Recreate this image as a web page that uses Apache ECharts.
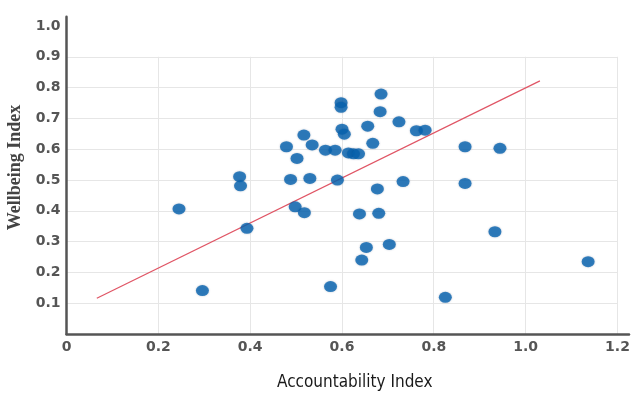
<!DOCTYPE html>
<html>
<head>
<meta charset="utf-8">
<script src="https://cdn.jsdelivr.net/npm/echarts@6/dist/echarts.min.js"></script>
<style>
  html, body { margin: 0; padding: 0; background: #fff; }
  #chart { width: 634px; height: 397px; }
</style>
</head>
<body>
<div id="chart"></div>
<script>
// Country-level observations: accountability vs. wellbeing
const accountability = [
  0.245, 0.296, 0.377, 0.379, 0.393, 0.479, 0.488, 0.502, 0.498, 0.518,
  0.517, 0.535, 0.530, 0.564, 0.585, 0.590, 0.575, 0.598, 0.598, 0.600,
  0.605, 0.614, 0.625, 0.636, 0.638, 0.643, 0.653, 0.656, 0.667, 0.677,
  0.680, 0.683, 0.685, 0.703, 0.724, 0.733, 0.762, 0.781, 0.825, 0.868,
  0.868, 0.933, 0.944, 1.136
];
const wellbeing = [
  0.406, 0.141, 0.511, 0.481, 0.343, 0.608, 0.502, 0.570, 0.413, 0.394,
  0.646, 0.614, 0.505, 0.597, 0.597, 0.500, 0.154, 0.751, 0.736, 0.665,
  0.649, 0.588, 0.585, 0.585, 0.390, 0.240, 0.281, 0.675, 0.619, 0.471,
  0.392, 0.722, 0.779, 0.291, 0.689, 0.495, 0.660, 0.662, 0.119, 0.608,
  0.489, 0.332, 0.603, 0.235
];

// Linear fit endpoints
const trendX = [0.066, 1.031];
const trendY = [0.116, 0.822];

const points = accountability.map((x, i) => [x, wellbeing[i]]);
const trend = trendX.map((x, i) => [x, trendY[i]]);

const near = (v, step) => Math.abs(v / step - Math.round(v / step)) < 1e-6;
const tickFont = { color: '#555', fontFamily: 'DejaVu Sans', fontWeight: 'bold', fontSize: 14 };

const chart = echarts.init(document.getElementById('chart'), null, { renderer: 'canvas' });
chart.setOption({
  animation: false,
  backgroundColor: '#fff',
  grid: [
    { left: 66.5, right: 5, top: 16.8, bottom: 63, containLabel: false, outerBoundsMode: 'none' },
    { left: 66.5, right: 16.7, top: 56.8, bottom: 63, containLabel: false, outerBoundsMode: 'none' }
  ],
  xAxis: [
    {
      gridIndex: 0, type: 'value', min: 0, max: 1.225, interval: 0.2,
      name: 'Accountability Index', nameLocation: 'middle', nameGap: 40,
      nameTextStyle: {
        fontFamily: "'DejaVu Sans Condensed', 'Liberation Sans Narrow', 'Liberation Sans'",
        fontSize: 17, color: '#1a1a1a', padding: [0, 0, 0, 14]
      },
      axisLine: { show: true, lineStyle: { color: '#555', width: 2.5 } },
      axisTick: { show: false },
      splitLine: { show: false },
      axisLabel: {
        ...tickFont, margin: 6,
        formatter: v => (near(v, 0.2) ? (v === 0 ? '0' : v.toFixed(1)) : '')
      }
    },
    {
      gridIndex: 1, type: 'value', min: 0, max: 1.2, interval: 0.2,
      axisLine: { show: false }, axisTick: { show: false }, axisLabel: { show: false },
      splitLine: { show: true, lineStyle: { color: '#e6e6e6', width: 1 } }
    }
  ],
  yAxis: [
    {
      gridIndex: 0, type: 'value', min: 0, max: 1.03, interval: 0.1,
      name: 'Wellbeing Index', nameLocation: 'middle', nameGap: 38,
      nameTextStyle: {
        fontFamily: 'Liberation Serif', fontSize: 18, color: '#444', fontWeight: 'bold',
        padding: [0, 0, 0, 16]
      },
      axisLine: { show: true, lineStyle: { color: '#555', width: 2.5 } },
      axisTick: { show: false },
      splitLine: { show: false },
      axisLabel: {
        ...tickFont, margin: 6,
        formatter: v => (v > 0 && near(v, 0.1) ? v.toFixed(1) : '')
      }
    },
    {
      gridIndex: 1, type: 'value', min: 0, max: 0.9, interval: 0.1,
      axisLine: { show: false }, axisTick: { show: false }, axisLabel: { show: false },
      splitLine: { show: true, lineStyle: { color: '#e6e6e6', width: 1 } }
    }
  ],
  series: [
    {
      type: 'line', xAxisIndex: 0, yAxisIndex: 0, data: trend,
      symbol: 'none', z: 2,
      lineStyle: { color: '#e05565', width: 1.2 }
    },
    {
      type: 'scatter', xAxisIndex: 0, yAxisIndex: 0, data: points,
      symbol: 'circle', symbolSize: [13, 11], z: 3,
      itemStyle: { color: '#0764b0', shadowBlur: 2, shadowColor: 'rgba(0,40,90,0.35)' }
    }
  ]
});
</script>
</body>
</html>
